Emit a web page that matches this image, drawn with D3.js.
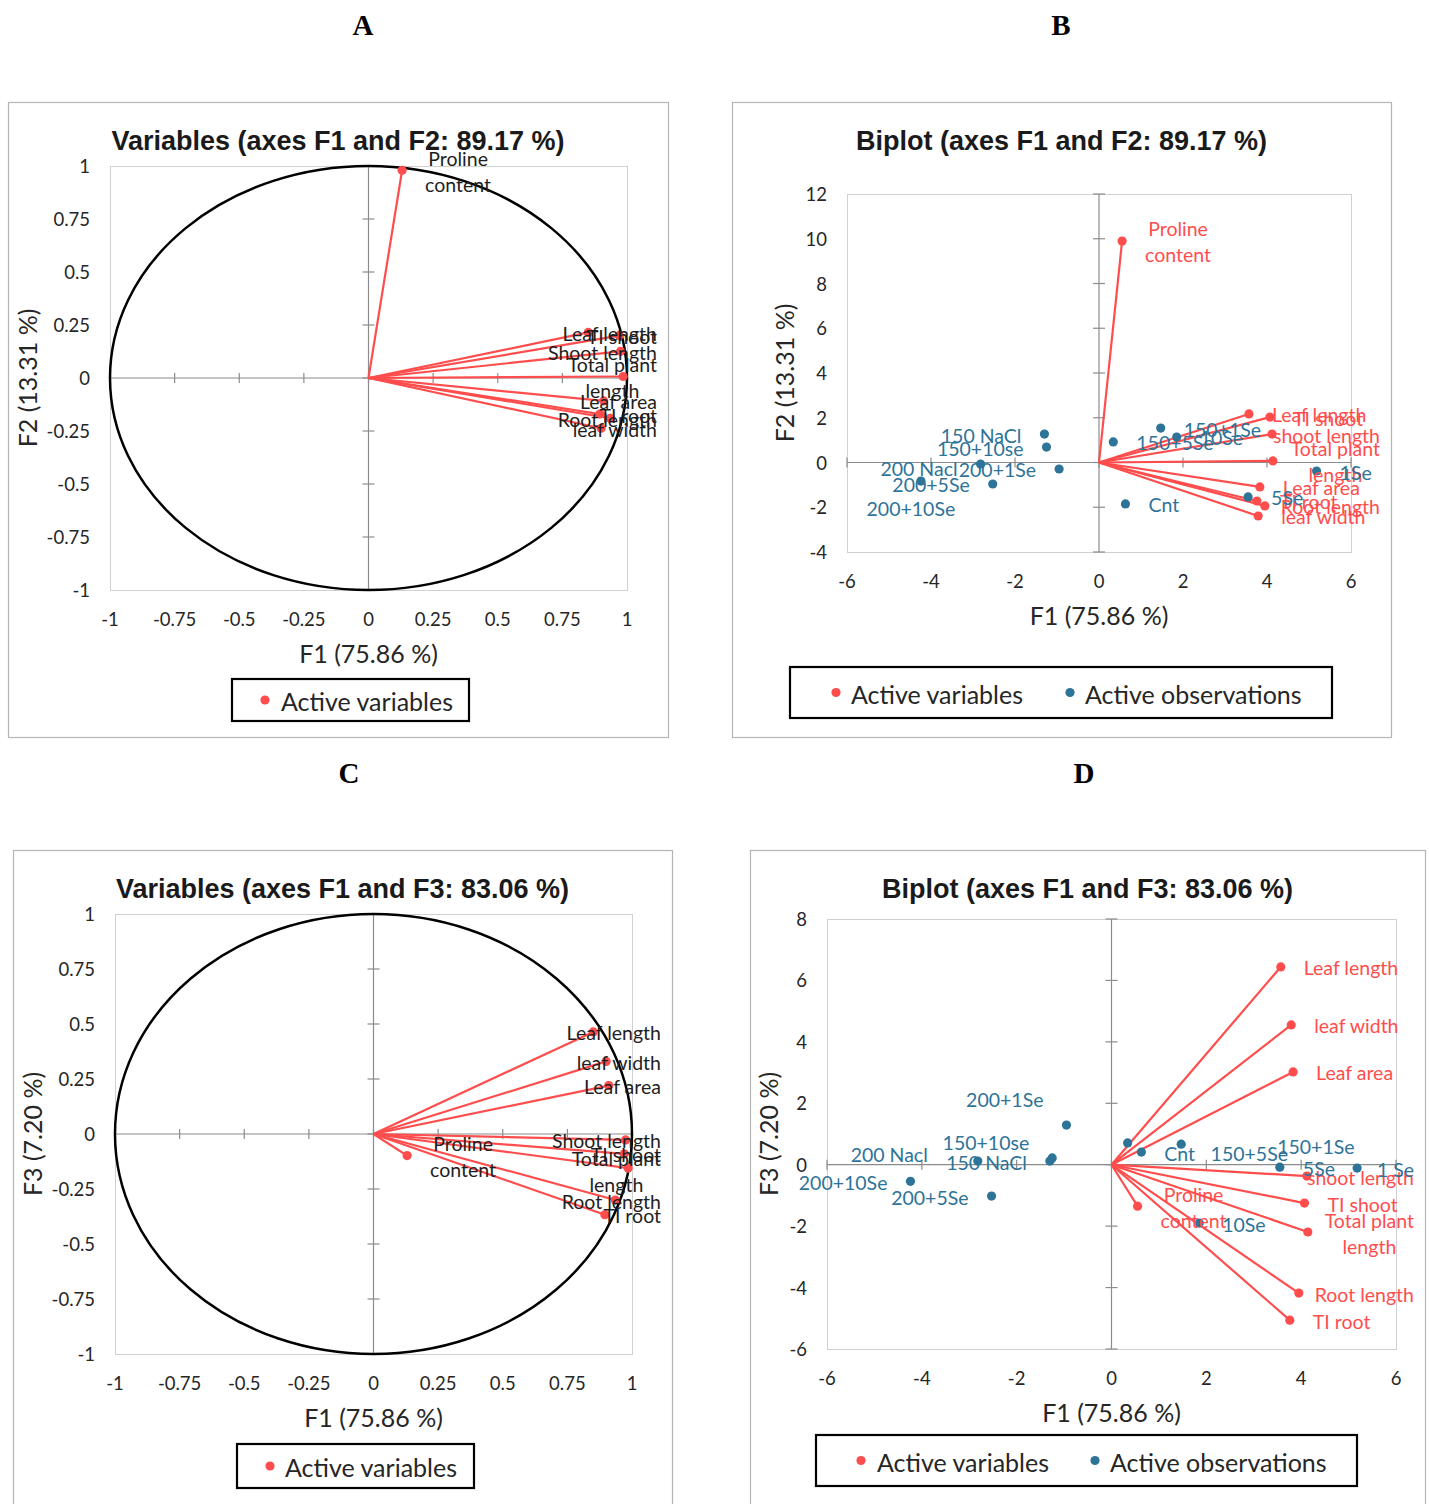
<!DOCTYPE html>
<html><head><meta charset="utf-8">
<script src="https://cdn.jsdelivr.net/npm/d3@7"></script>
<style>body{margin:0;background:#fff;} svg{display:block}</style>
</head><body>
<svg id="chart" width="1429" height="1504"></svg>
<script>
// ---------------- DATA ----------------
const varNames   = ["Proline content","Leaf length","TI shoot","Shoot length","Total plant length","Leaf area","TI root","Root length","leaf width"];
const varNamesBi = ["Proline content","Leaf length","TI shoot","shoot length","Total plant length","Leaf area","TI root","Root length","leaf width"];
// correlations (circle plots)
const varF1 = [0.13, 0.85, 0.97, 0.975, 0.985, 0.91, 0.895, 0.935, 0.90];
const varF2 = [0.98, 0.215, 0.20, 0.126, 0.007, -0.108, -0.17, -0.19, -0.237];
const varF3 = [-0.098, 0.464, -0.09, -0.027, -0.155, 0.22, -0.367, -0.30, 0.33];
// biplot variable coordinates
const biF1 = [0.55, 3.57, 4.07, 4.12, 4.14, 3.83, 3.76, 3.95, 3.79];
const biF2 = [9.9, 2.17, 2.03, 1.27, 0.07, -1.09, -1.72, -1.94, -2.39];
const biF3 = [-1.35, 6.44, -1.25, -0.37, -2.19, 3.02, -5.06, -4.18, 4.55];
// observations
const obsNames  = ["Cnt","1Se","5Se","10Se","150 NaCl","150+1Se","150+5Se","150+10se","200 Nacl","200+1Se","200+5Se","200+10Se"];
const obsNamesD = ["Cnt","1 Se","5Se","10Se","150 NaCl","150+1Se","150+5Se","150+10se","200 Nacl","200+1Se","200+5Se","200+10Se"];
const obsF1 = [0.63, 5.18, 3.55, 1.85, -1.30, 1.47, 0.34, -1.25, -2.82, -0.95, -2.53, -4.24];
const obsF2 = [-1.85, -0.38, -1.54, 1.14, 1.27, 1.54, 0.92, 0.69, -0.07, -0.29, -0.96, -0.83];
const obsF3 = [0.41, -0.11, -0.08, -1.90, 0.12, 0.67, 0.71, 0.22, 0.12, 1.29, -1.02, -0.54];
// ticks
const corrTicks = [-1,-0.75,-0.5,-0.25,0,0.25,0.5,0.75,1];
const biXTicks = [-6,-4,-2,0,2,4,6];
const biF2Ticks = [-4,-2,0,2,4,6,8,10,12];
const biF3Ticks = [-6,-4,-2,0,2,4,6,8];

// ---------------- STYLE / LAYOUT ----------------
const RED = "#ff4d4d", BLUE = "#2e7398";
const LABEL_FONT = "Lato, 'Open Sans', sans-serif";
const lblSize = 19.5, tickSize = 18.5, axTitleSize = 25, legSize = 25;

const twoLine = {"Proline content":["Proline","content"], "Total plant length":["Total plant","length"]};

const panels = [
 {letter:"A", lx:363, ly:25, frame:[8,102,668,737], title:"Variables (axes F1 and F2: 89.17 %)",
  plot:[110,166,627,590], xDom:[-1,1], yDom:[-1,1], xTicks:corrTicks, yTicks:corrTicks,
  xTitle:"F1 (75.86 %)", yTitle:"F2 (13.31 %)", yTitleX:27, kind:"corr", vx:varF1, vy:varF2, names:varNames,
  layout:{}, legend:{x:232,y:679,w:237,h:42, items:[{c:RED,dot:265,tx:281,t:"Active variables"}]}},
 {letter:"B", lx:1061, ly:25, frame:[732,102,1391,737], title:"Biplot (axes F1 and F2: 89.17 %)",
  plot:[847,194,1351,552], xDom:[-6,6], yDom:[-4,12], xTicks:biXTicks, yTicks:biF2Ticks,
  xTitle:"F1 (75.86 %)", yTitle:"F2 (13.31 %)", yTitleX:784, kind:"bi", vx:biF1, vy:biF2, names:varNamesBi,
  ox:obsF1, oy:obsF2, onames:obsNames,
  layout:{}, olayout:{"150 NaCl":{p:"left"},"150+10se":{p:"left"},"200 Nacl":{p:"left",dy:3},"200+1Se":{p:"left"},
    "200+5Se":{p:"left"},"200+10Se":{p:"below",dx:-10}},
  legend:{x:790,y:667,w:542,h:51, items:[{c:RED,dot:836,tx:851,t:"Active variables"},{c:BLUE,dot:1070,tx:1085,t:"Active observations"}]}},
 {letter:"C", lx:349, ly:773, frame:[13,850,672,1512], title:"Variables (axes F1 and F3: 83.06 %)",
  plot:[115,914,632,1354], xDom:[-1,1], yDom:[-1,1], xTicks:corrTicks, yTicks:corrTicks,
  xTitle:"F1 (75.86 %)", yTitle:"F3 (7.20 %)", yTitleX:32, kind:"corr", vx:varF1, vy:varF3, names:varNames,
  layout:{"Total plant length":{dy:2}}, legend:{x:237,y:1444,w:237,h:44, items:[{c:RED,dot:270,tx:285,t:"Active variables"}]}},
 {letter:"D", lx:1084, ly:773, frame:[750,850,1425,1512], title:"Biplot (axes F1 and F3: 83.06 %)",
  plot:[827,919,1396,1349], xDom:[-6,6], yDom:[-6,8], xTicks:biXTicks, yTicks:biF3Ticks,
  xTitle:"F1 (75.86 %)", yTitle:"F3 (7.20 %)", yTitleX:768, kind:"bi", vx:biF1, vy:biF3, names:varNamesBi,
  ox:obsF1, oy:obsF3, onames:obsNamesD,
  layout:{"Total plant length":{dy:1}},
  olayout:{"150 NaCl":{p:"left"},"150+1Se":{dx:73,dy:1},"150+5Se":{dx:60,dy:10},"150+10se":{p:"left",dy:-16},
    "200 Nacl":{p:"left",dx:-27,dy:-8},"200+1Se":{p:"left",dy:-27},"200+5Se":{p:"left"},"200+10Se":{p:"left"}},
  legend:{x:816,y:1435,w:541,h:51, items:[{c:RED,dot:861,tx:877,t:"Active variables"},{c:BLUE,dot:1095,tx:1110,t:"Active observations"}]}}
];

const svg = d3.select("#chart");
svg.append("rect").attr("width",1429).attr("height",1504).attr("fill","#fff");

function fmt(d){ return String(d); }

function placeLabel(g, px, py, name, color, opt, clampRight){
  opt = opt || {};
  const lines = twoLine[name] || [name];
  const t = g.append("text").attr("fill", color)
    .style("font-family", LABEL_FONT).style("font-size", lblSize+"px");
  const spans = lines.map(l => t.append("tspan").text(l));
  const W = d3.max(spans, s => s.node().getComputedTextLength());
  const p = opt.p || "right";
  let left;
  if (p === "right") left = px + 23;
  else if (p === "left") left = px - 23 - W;
  else left = px - W/2;
  left += (opt.dx || 0);
  if (left + W > clampRight) left = clampRight - W;
  const cx = left + W/2;
  let base = py + 1 + (opt.dy || 0);
  if (p === "below") base += 26;
  if (p === "above") base -= 26;
  const lh = 26;
  spans.forEach((s,i) => {
    s.attr("x", cx).attr("y", base + (i - (lines.length-1)/2)*lh)
     .attr("text-anchor","middle").attr("dominant-baseline","central");
  });
}

panels.forEach(P => {
  const g = svg.append("g");
  const [fx0,fy0,fx1,fy1] = P.frame;
  const [px0,py0,px1,py1] = P.plot;
  // panel letter
  g.append("text").attr("x",P.lx).attr("y",P.ly).attr("text-anchor","middle").attr("dominant-baseline","central")
    .style("font-family","'Liberation Serif','Times New Roman',serif").style("font-weight","bold").style("font-size","29px")
    .text(P.letter);
  // frame
  g.append("rect").attr("x",fx0+0.5).attr("y",fy0+0.5).attr("width",fx1-fx0).attr("height",fy1-fy0)
    .attr("fill","none").attr("stroke","#b4b4b4").attr("stroke-width",1.2);
  // title
  g.append("text").attr("x",(fx0+fx1)/2).attr("y",fy0+39).attr("text-anchor","middle").attr("dominant-baseline","central")
    .style("font-family","'Liberation Sans',Arial,sans-serif").style("font-weight","bold").style("font-size","27px")
    .attr("fill","#1a1a1a").text(P.title);

  const x = d3.scaleLinear().domain(P.xDom).range([px0,px1]);
  const y = d3.scaleLinear().domain(P.yDom).range([py1,py0]);

  // plot area border
  g.append("rect").attr("x",px0+0.5).attr("y",py0+0.5).attr("width",px1-px0).attr("height",py1-py0)
    .attr("fill","none").attr("stroke","#d0d0d0").attr("stroke-width",1);

  // zero axes with crossing ticks
  const ax = g.append("g").attr("stroke","#8c8c8c").attr("stroke-width",1.2);
  ax.append("line").attr("x1",px0).attr("x2",px1).attr("y1",y(0)).attr("y2",y(0));
  ax.append("line").attr("x1",x(0)).attr("x2",x(0)).attr("y1",py0).attr("y2",py1);
  ax.selectAll(".xt").data(P.xTicks).join("line").attr("x1",d=>x(d)).attr("x2",d=>x(d)).attr("y1",y(0)-5).attr("y2",y(0)+5);
  ax.selectAll(".yt").data(P.yTicks).join("line").attr("y1",d=>y(d)).attr("y2",d=>y(d)).attr("x1",x(0)-6).attr("x2",x(0)+6);

  // tick labels (low position)
  g.selectAll(".xl").data(P.xTicks).join("text").attr("x",d=>x(d)).attr("y",py1+29)
    .attr("text-anchor","middle").attr("dominant-baseline","central").attr("fill","#262626")
    .style("font-family",LABEL_FONT).style("font-size",tickSize+"px").text(fmt);
  g.selectAll(".yl").data(P.yTicks).join("text").attr("x",px0-20).attr("y",d=>y(d))
    .attr("text-anchor","end").attr("dominant-baseline","central").attr("fill","#262626")
    .style("font-family",LABEL_FONT).style("font-size",tickSize+"px").text(fmt);

  // axis titles
  g.append("text").attr("x",x(0)).attr("y",py1+63).attr("text-anchor","middle").attr("dominant-baseline","central")
    .attr("fill","#262626").style("font-family",LABEL_FONT).style("font-size",axTitleSize+"px").text(P.xTitle);
  g.append("text").attr("transform",`translate(${P.yTitleX},${(py0+py1)/2}) rotate(-90)`)
    .attr("text-anchor","middle").attr("dominant-baseline","central")
    .attr("fill","#262626").style("font-family",LABEL_FONT).style("font-size",axTitleSize+"px").text(P.yTitle);

  // correlation circle
  if (P.kind === "corr") {
    g.append("ellipse").attr("cx",x(0)).attr("cy",y(0)).attr("rx",x(1)-x(0)).attr("ry",y(0)-y(1))
      .attr("fill","none").attr("stroke","#000").attr("stroke-width",2.5);
  }

  // variable vectors
  const vidx = d3.range(P.names.length);
  g.selectAll(".vl").data(vidx).join("line").attr("x1",x(0)).attr("y1",y(0))
    .attr("x2",i=>x(P.vx[i])).attr("y2",i=>y(P.vy[i])).attr("stroke",RED).attr("stroke-width",2.2);
  g.selectAll(".vd").data(vidx).join("circle").attr("cx",i=>x(P.vx[i])).attr("cy",i=>y(P.vy[i]))
    .attr("r",4.6).attr("fill",RED);

  // observations
  if (P.kind === "bi") {
    const oidx = d3.range(P.onames.length);
    g.selectAll(".od").data(oidx).join("circle").attr("cx",i=>x(P.ox[i])).attr("cy",i=>y(P.oy[i]))
      .attr("r",4.6).attr("fill",BLUE);
  }

  const clampR = fx1 - 11;
  // variable labels
  const vColor = P.kind === "corr" ? "#1e1e1e" : RED;
  vidx.forEach(i => placeLabel(g, x(P.vx[i]), y(P.vy[i]), P.names[i], vColor, P.layout[P.names[i]], clampR));
  if (P.kind === "bi") {
    P.onames.forEach((n,i) => placeLabel(g, x(P.ox[i]), y(P.oy[i]), n, BLUE, P.olayout[n], clampR));
  }

  // legend
  const L = P.legend;
  g.append("rect").attr("x",L.x).attr("y",L.y).attr("width",L.w).attr("height",L.h)
    .attr("fill","#fff").attr("stroke","#000").attr("stroke-width",2.2);
  L.items.forEach(it => {
    g.append("circle").attr("cx",it.dot).attr("cy",L.y+L.h/2).attr("r",4.6).attr("fill",it.c);
    g.append("text").attr("x",it.tx).attr("y",L.y+L.h/2+1).attr("dominant-baseline","central")
      .attr("fill","#262626").style("font-family",LABEL_FONT).style("font-size",legSize+"px").text(it.t);
  });
});
</script>
</body></html>
